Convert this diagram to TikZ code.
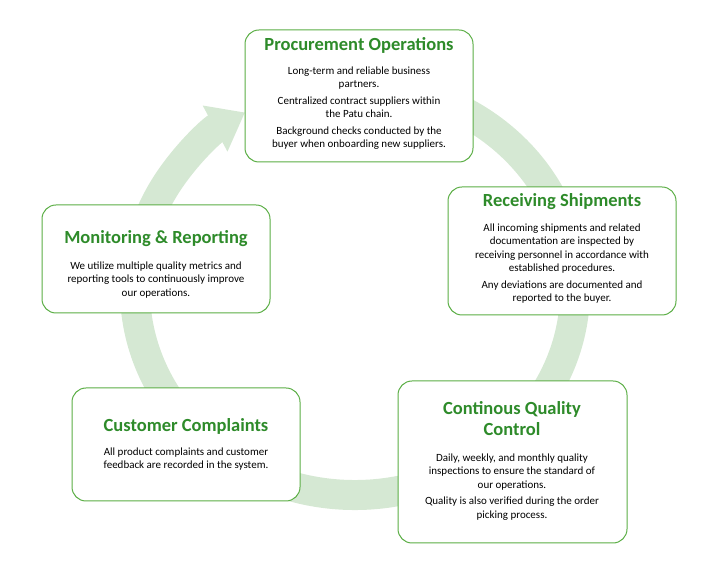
\documentclass[tikz,border=0pt]{standalone}
\usepackage{fontspec}
\setmainfont{Carlito}
\usetikzlibrary{arrows.meta,calc}
\definecolor{ring}{HTML}{D5E8D3}
\definecolor{bord}{HTML}{5BAE45}
\definecolor{ttl}{HTML}{2E8B2A}
\begin{document}
\begin{tikzpicture}[x=1pt,y=1pt,
  box/.style={draw=bord,line width=1pt,fill=white,rounded corners=14pt},
  ttl/.style={font=\fontsize{18.5}{21}\selectfont\bfseries,text=ttl,align=center},
  bd/.style={font=\fontsize{11}{13.5}\selectfont,align=center,text=black}]
\useasboundingbox (0,0) rectangle (708,577);
\draw[ring,line width=30pt,-{Triangle[length=34pt,width=50pt]}]
  ($(355,287)+(60:220 and 205)$) arc[start angle=60,end angle=-240,x radius=220,y radius=205];
% Procurement
\draw[box] (245,415) rectangle (473,547);
\node[ttl] (t1) at (359,532) {Procurement Operations};
\node[bd,anchor=north] (b1) at (359,514) {Long-term and reliable business\\partners.\\[3pt]Centralized contract suppliers within\\the Patu chain.\\[3pt]Background checks conducted by the\\buyer when onboarding new suppliers.};
% Receiving
\draw[box] (448,262) rectangle (676,390);
\node[ttl] (t2) at (562,375) {Receiving Shipments};
\node[bd,anchor=north] (b2) at (562,357) {All incoming shipments and related\\documentation are inspected by\\receiving personnel in accordance with\\established procedures.\\[3pt]Any deviations are documented and\\reported to the buyer.};
% Continuous
\draw[box] (398,34) rectangle (627,196);
\node[ttl] (t3) at (512,158) {Continous Quality\\Control};
\node[bd,anchor=north] (b3) at (512,127) {Daily, weekly, and monthly quality\\inspections to ensure the standard of\\our operations.\\[3pt]Quality is also verified during the order\\picking process.};
% Customer
\draw[box] (72,76) rectangle (300,189);
\node[ttl] (t4) at (186,151) {Customer Complaints};
\node[bd,anchor=north] (b4) at (186,133) {All product complaints and customer\\feedback are recorded in the system.};
% Monitoring
\draw[box] (42,264) rectangle (270,372);
\node[ttl] (t5) at (156,338) {Monitoring \& Reporting};
\node[bd,anchor=north] (b5) at (156,319) {We utilize multiple quality metrics and\\reporting tools to continuously improve\\our operations.};
\end{tikzpicture}
\end{document}
